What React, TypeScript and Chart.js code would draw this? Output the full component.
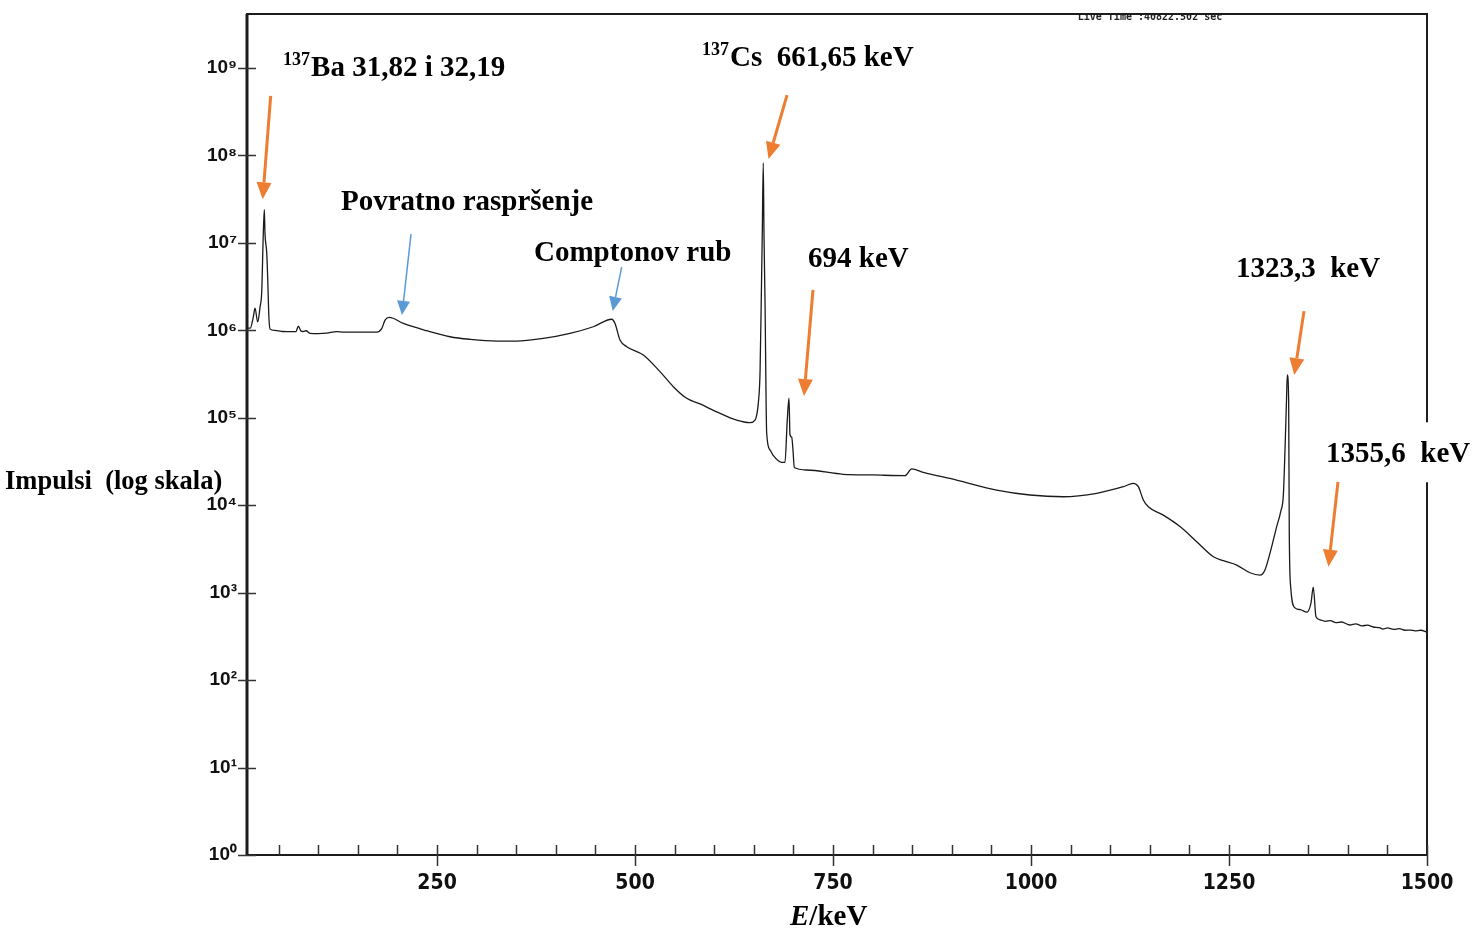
import React, { useEffect, useRef } from 'react';
import { Chart, registerables } from 'chart.js';

Chart.register(...registerables);

// ---- Spectrum data (E in keV, counts) ----
const energyKeV = [
  10, 14, 18, 20.1, 23.5, 26.5, 28.6, 30.6, 31.9, 32.7,
  34.9, 36.1, 37.4, 39, 45, 55, 68.1, 72, 74.8, 78.2,
  81, 84.5, 89.5, 100, 110.6, 123.3, 131.2, 150, 173.8, 180.1,
  184.3, 189.7, 207.4, 236.9, 266.3, 291.6, 325.3, 350.6, 384.1, 417.9,
  447.3, 470.5, 474.7, 481, 489.5, 510.4, 531.5, 548.3, 565.2, 582,
  603.1, 628.3, 645.1, 651.5, 655.6, 657.8, 659.2, 660.7, 661.9, 662.8,
  664.1, 666.2, 670.4, 674.2, 685.2, 689.3, 692.2, 694.4, 695.6, 697.8,
  699.4, 701.1, 716.7, 762.9, 800.8, 840.9, 849.3, 864, 906.1, 956.6,
  998.7, 1040.7, 1082.9, 1116.5, 1129.2, 1135.5, 1141.8, 1148.1, 1167, 1188.1,
  1209.2, 1230.2, 1242.8, 1259.7, 1276.5, 1289.1, 1295.4, 1301.7, 1310.2, 1315.5,
  1318.6, 1320.7, 1322.6, 1323.6, 1325.3, 1326.1, 1327.9, 1333.3, 1340, 1348.4,
  1353.5, 1356.4, 1359.8, 1364.9, 1372, 1378, 1385, 1392, 1402.7, 1410,
  1418, 1425, 1432, 1440, 1444.4, 1450, 1458, 1465, 1472, 1478.5,
  1485, 1492, 1500,
];
const counts = [
  1.06e6, 1.06e6, 1.43e6, 1.8e6, 1.25e6, 1.86e6, 2.77e6, 1.3e7, 2.4e7, 1.3e7,
  7.7e6, 4.1e6, 1.6e6, 1.04e6, 1.0e6, 9.7e5, 9.65e5, 9.7e5, 1.12e6, 9.8e5,
  9.7e5, 9.9e5, 9.25e5, 9.2e5, 9.3e5, 9.65e5, 9.57e5, 9.55e5, 9.57e5, 1.045e6,
  1.31e6, 1.41e6, 1.2e6, 9.9e5, 8.45e5, 7.9e5, 7.55e5, 7.55e5, 8.1e5, 9.25e5,
  1.1e6, 1.34e6, 1.2e6, 7.74e5, 6.5e5, 5.22e5, 3.37e5, 2.27e5, 1.67e5, 1.44e5,
  1.17e5, 9.4e4, 8.8e4, 9.4e4, 1.46e5, 3.25e5, 1.8e6, 1.4e7, 8.2e7, 1.3e7,
  2.2e6, 6.7e4, 4.3e4, 3.75e4, 3.1e4, 3.1e4, 9.4e4, 1.68e5, 6.4e4, 6.0e4,
  4.3e4, 2.7e4, 2.53e4, 2.26e4, 2.22e4, 2.18e4, 2.6e4, 2.38e4, 1.94e4, 1.49e4,
  1.31e4, 1.25e4, 1.37e4, 1.63e4, 1.78e4, 1.63e4, 1.15e4, 9.6e3, 7.7e3, 5.7e3,
  3.83e3, 2.58e3, 2.32e3, 2.07e3, 1.69e3, 1.59e3, 1.82e3, 2.82e3, 5.7e3, 8.6e3,
  1.3e4, 4.3e4, 1.6e5, 3.1e5, 1.6e5, 4.8e3, 1160, 670, 640, 600,
  760, 1160, 530, 490, 470, 480, 455, 462, 427, 440,
  418, 425, 405, 398, 384, 395, 380, 388, 372, 374,
  366, 372, 355,
];

// ---- Axis ticks ----
const xMajorTicks = [250, 500, 750, 1000, 1250, 1500];
const xMinorTicks = [50, 100, 150, 200, 300, 350, 400, 450, 550, 600, 650, 700, 800, 850, 900, 950, 1050, 1100, 1150, 1200, 1300, 1350, 1400, 1450];
const yDecadeExponents = [0, 1, 2, 3, 4, 5, 6, 7, 8, 9];
const superscriptDigits = ['⁰', '¹', '²', '³', '⁴', '⁵', '⁶', '⁷', '⁸', '⁹'];

// ---- Annotations (data coordinates: E keV, counts) ----
const labelSup = ['137', '137', '', '', '', '', ''];
const labelText = ['Ba 31,82 i 32,19', 'Cs  661,65 keV', 'Povratno raspršenje', 'Comptonov rub', '694 keV', '1323,3  keV', '1355,6  keV'];
const labelE = [55.5, 584.5, 128.7, 372.4, 718.4, 1258.8, 1372.5];
const labelC = [8.1e8, 1.05e9, 2.4e7, 6.2e6, 5.3e6, 4.07e6, 3.1e4];

const arrowKind = ['peak', 'peak', 'feature', 'feature', 'peak', 'peak', 'peak'];
const arrowFromE = [39.9, 691.9, 217.1, 483.1, 724.7, 1344.7, 1387.6];
const arrowFromC = [4.8e8, 4.9e8, 1.26e7, 5.3e6, 2.9e6, 1.66e6, 1.85e4];
const arrowToE = [29.8, 668.5, 205.7, 471.8, 713.3, 1332.4, 1375.6];
const arrowToC = [3.15e7, 9.1e7, 1.5e6, 1.67e6, 1.77e5, 3.08e5, 1.98e3];

const SERIF = '"Liberation Serif", "Times New Roman", serif';

function drawArrow(ctx: CanvasRenderingContext2D, x1: number, y1: number, x2: number, y2: number, color: string, lw: number, hl: number, hw: number) {
  const ang = Math.atan2(y2 - y1, x2 - x1);
  const bx = x2 - hl * Math.cos(ang);
  const by = y2 - hl * Math.sin(ang);
  ctx.strokeStyle = color;
  ctx.lineWidth = lw;
  ctx.beginPath();
  ctx.moveTo(x1, y1);
  ctx.lineTo(bx, by);
  ctx.stroke();
  ctx.fillStyle = color;
  ctx.beginPath();
  ctx.moveTo(x2, y2);
  ctx.lineTo(bx + (hw / 2) * Math.sin(ang), by - (hw / 2) * Math.cos(ang));
  ctx.lineTo(bx - (hw / 2) * Math.sin(ang), by + (hw / 2) * Math.cos(ang));
  ctx.closePath();
  ctx.fill();
}

const decorPlugin = {
  id: 'decor',
  afterDraw(chart: any) {
    const { ctx, chartArea: a, scales } = chart;
    const x = scales.x;
    const y = scales.y;
    ctx.save();

    // Live time text, partially hidden by the frame
    ctx.save();
    ctx.beginPath();
    ctx.rect(a.left, a.top + 1, a.right - a.left, 30);
    ctx.clip();
    ctx.font = 'bold 10px "DejaVu Sans Mono", monospace';
    ctx.fillStyle = '#222';
    ctx.textAlign = 'left';
    ctx.textBaseline = 'alphabetic';
    ctx.fillText('Live Time :40822.502 sec', x.getPixelForValue(1059), a.top + 6);
    ctx.restore();

    // Frame
    ctx.strokeStyle = '#1c1c1c';
    ctx.lineWidth = 2;
    ctx.strokeRect(a.left, a.top, a.right - a.left, a.bottom - a.top);
    ctx.lineWidth = 3;
    ctx.beginPath();
    ctx.moveTo(a.left, a.top);
    ctx.lineTo(a.left, a.bottom);
    ctx.stroke();

    // Y ticks
    ctx.lineWidth = 1.5;
    ctx.strokeStyle = '#333';
    for (const p of yDecadeExponents) {
      const yy = Math.round(y.getPixelForValue(Math.pow(10, p))) + 0.5;
      ctx.beginPath();
      ctx.moveTo(a.left - 9, yy);
      ctx.lineTo(a.left + 9, yy);
      ctx.stroke();
    }
    // X ticks
    for (const v of xMinorTicks) {
      const xx = Math.round(x.getPixelForValue(v)) + 0.5;
      ctx.beginPath();
      ctx.moveTo(xx, a.bottom - 10);
      ctx.lineTo(xx, a.bottom);
      ctx.stroke();
    }
    for (const v of xMajorTicks) {
      const xx = Math.round(x.getPixelForValue(v)) + 0.5;
      ctx.beginPath();
      ctx.moveTo(xx, a.bottom - 10);
      ctx.lineTo(xx, a.bottom + 11);
      ctx.stroke();
    }

    // White box behind the 1355,6 label (covers right frame)
    ctx.fillStyle = '#fff';
    ctx.fillRect(x.getPixelForValue(labelE[6]) - 6, y.getPixelForValue(labelC[6]) - 40, 160, 60);

    // Arrows
    for (let i = 0; i < arrowKind.length; i++) {
      const peak = arrowKind[i] === 'peak';
      drawArrow(
        ctx,
        x.getPixelForValue(arrowFromE[i]),
        y.getPixelForValue(arrowFromC[i]),
        x.getPixelForValue(arrowToE[i]),
        y.getPixelForValue(arrowToC[i]),
        peak ? '#ED7D31' : '#5B9BD5',
        peak ? 3 : 1.5,
        peak ? 17 : 14,
        peak ? 15 : 13
      );
    }

    // Labels
    ctx.fillStyle = '#000';
    ctx.textAlign = 'left';
    ctx.textBaseline = 'alphabetic';
    for (let i = 0; i < labelText.length; i++) {
      let px = x.getPixelForValue(labelE[i]);
      const py = y.getPixelForValue(labelC[i]);
      if (labelSup[i]) {
        ctx.font = `bold 18px ${SERIF}`;
        ctx.fillText(labelSup[i], px, py - 11);
        px += ctx.measureText(labelSup[i]).width + 1;
      }
      ctx.font = `bold 29px ${SERIF}`;
      ctx.fillText(labelText[i], px, py);
    }

    // Axis titles
    ctx.font = `bold 26.5px ${SERIF}`;
    ctx.fillText('Impulsi  (log skala)', 5, 489);
    const cx = (a.left + a.right) / 2 - 47;
    ctx.font = `italic bold 29px ${SERIF}`;
    ctx.fillText('E', cx, 925);
    const ew = ctx.measureText('E').width;
    ctx.font = `bold 29px ${SERIF}`;
    ctx.fillText('/keV', cx + ew, 925);

    ctx.restore();
  },
};

export default function App() {
  const ref = useRef<HTMLCanvasElement>(null);
  useEffect(() => {
    const points = energyKeV.map((e, i) => ({ x: e, y: counts[i] }));
    const chart = new Chart(ref.current as HTMLCanvasElement, {
      type: 'line',
      data: {
        datasets: [
          {
            data: points,
            borderColor: '#1a1a1a',
            borderWidth: 1.3,
            pointRadius: 0,
            cubicInterpolationMode: 'monotone',
            fill: false,
          },
        ],
      },
      options: {
        responsive: false,
        animation: false,
        devicePixelRatio: 1,
        layout: { padding: { left: 0, right: 45, top: 14, bottom: 0 } },
        plugins: { legend: { display: false }, tooltip: { enabled: false } },
        scales: {
          x: {
            type: 'linear',
            min: 10,
            max: 1500,
            grid: { display: false, drawTicks: false },
            border: { display: false },
            afterBuildTicks: (scale: any) => {
              scale.ticks = xMajorTicks.map((v) => ({ value: v }));
            },
            afterFit: (scale: any) => {
              scale.height = 74;
              scale.paddingLeft = 0;
              scale.paddingRight = 0;
            },
            ticks: {
              autoSkip: false,
              maxRotation: 0,
              padding: 16,
              color: '#111',
              font: { family: '"Liberation Sans Narrow", "DejaVu Sans Condensed", sans-serif', size: 21, weight: 'bold' },
              callback: (v: any) => String(v),
            },
          },
          y: {
            type: 'logarithmic',
            min: 1,
            max: 4.15e9,
            grid: { display: false, drawTicks: false },
            border: { display: false },
            afterBuildTicks: (scale: any) => {
              scale.ticks = yDecadeExponents.map((p) => ({ value: Math.pow(10, p) }));
            },
            afterFit: (scale: any) => {
              scale.width = 247;
              scale.paddingTop = 0;
              scale.paddingBottom = 0;
            },
            ticks: {
              autoSkip: false,
              padding: 10,
              color: '#111',
              font: { family: '"Liberation Sans", Arial, sans-serif', size: 19, weight: 'bold' },
              callback: (v: any) => '10' + superscriptDigits[Math.round(Math.log10(Number(v)))],
            },
          },
        },
      },
      plugins: [decorPlugin],
    } as any);
    return () => chart.destroy();
  }, []);
  return (
    <div style={{ position: 'absolute', left: 0, top: 0, width: 1472, height: 929, background: '#fff' }}>
      <canvas ref={ref} width={1472} height={929} style={{ display: 'block', width: 1472, height: 929 }} />
    </div>
  );
}
